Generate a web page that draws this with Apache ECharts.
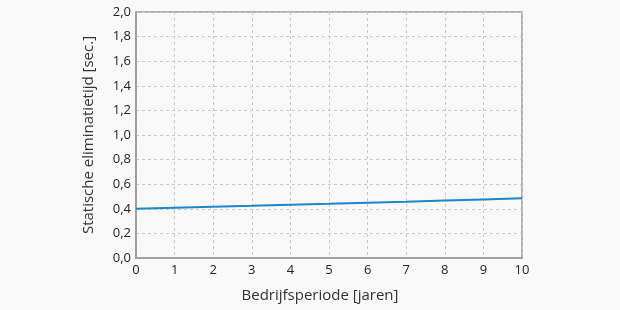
<!DOCTYPE html>
<html><head><meta charset="utf-8">
<script src="https://cdn.jsdelivr.net/npm/echarts@6/dist/echarts.min.js"></script>
<style>html,body{margin:0;padding:0;background:#f9f9f9}#c{width:620px;height:310px}</style>
</head><body><div id="c"></div>
<script>
const years = [0,1,2,3,4,5,6,7,8,9,10];
const eliminationTime = [0.400,0.408,0.416,0.424,0.433,0.441,0.450,0.458,0.467,0.476,0.485];
const yTickLabels = ['0,0','0,2','0,4','0,6','0,8','1,0','1,2','1,4','1,6','1,8','2,0'];
const xAxisTitle = 'Bedrijfsperiode [jaren]';
const yAxisTitle = 'Statische eliminatietijd [sec.]';

const font = '"Open Sans", "DejaVu Sans", sans-serif';
const chart = echarts.init(document.getElementById('c'), null, {renderer:'canvas'});
chart.setOption({
  backgroundColor: '#f9f9f9',
  animation: false,
  grid: {left:136, right:98, top:12, bottom:52, show:true, borderColor:'#999', borderWidth:1.5, backgroundColor:'transparent'},
  xAxis: {
    type:'value', min:0, max:10, interval:1,
    name: xAxisTitle, nameLocation:'middle', nameGap:30,
    nameTextStyle:{fontFamily:font, fontSize:15, color:'#333', padding:[0,18,0,0]},
    axisLine:{show:true, lineStyle:{color:'#999', width:1.5}},
    axisTick:{show:false},
    axisLabel:{fontFamily:font, fontSize:13, color:'#222', margin:6},
    splitLine:{show:true, lineStyle:{type:[3,3], color:'#c8c8c8', width:1}}
  },
  yAxis: {
    type:'value', min:0, max:2, interval:0.2,
    name: yAxisTitle, nameLocation:'middle', nameGap:40,
    nameTextStyle:{fontFamily:font, fontSize:15, color:'#333'},
    axisLine:{show:true, lineStyle:{color:'#999', width:1.5}},
    axisTick:{show:false},
    axisLabel:{fontFamily:font, fontSize:13, color:'#222', margin:5,
      formatter:(v)=>yTickLabels[Math.round(v/0.2)]},
    splitLine:{show:true, lineStyle:{type:[3,3], color:'#c8c8c8', width:1}}
  },
  series:[{
    type:'line', data: years.map((x,i)=>[x, eliminationTime[i]]),
    showSymbol:false, lineStyle:{color:'#1887cc', width:2}, smooth:false
  }]
});
</script></body></html>
